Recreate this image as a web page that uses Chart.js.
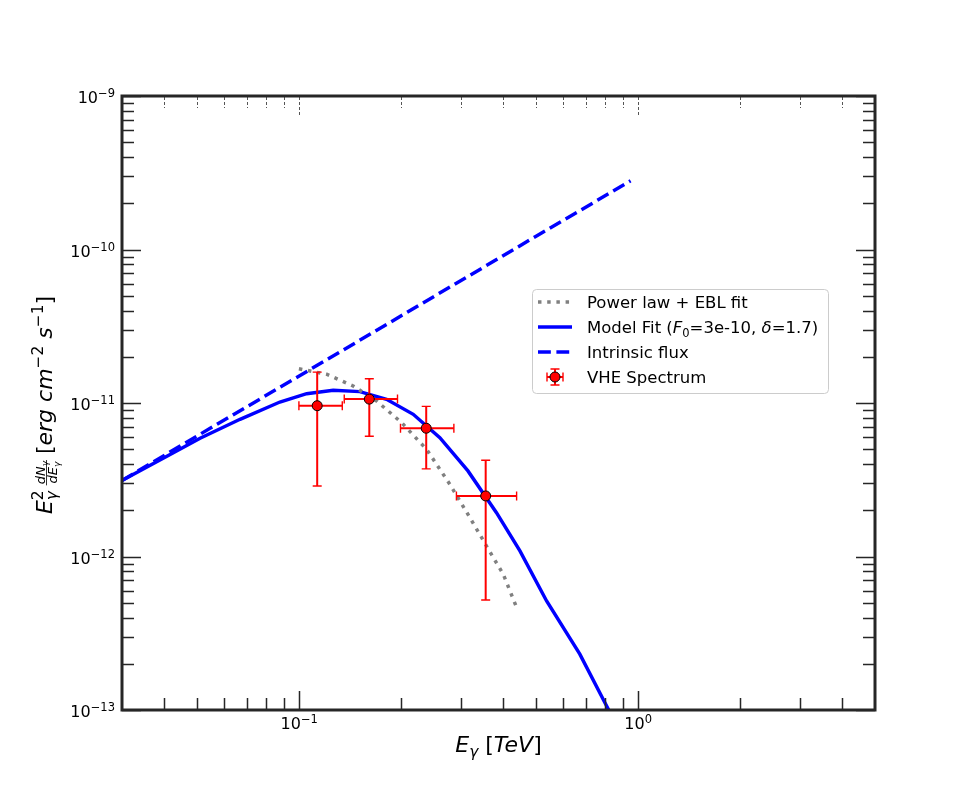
<!DOCTYPE html>
<html>
<head>
<meta charset="utf-8">
<title>VHE spectrum</title>
<script src="https://cdn.jsdelivr.net/npm/chart.js@4.4.1/dist/chart.umd.min.js"></script>
<style>
  html, body { margin: 0; padding: 0; background: #fff; }
  #wrap { width: 972px; height: 798px; }
</style>
</head>
<body>
<div id="wrap"><canvas id="sed"></canvas></div>
<script>
// VHE spectrum points: energy [TeV], E^2 dN/dE [erg cm^-2 s^-1], with error ranges
const vheE   = [0.113, 0.161, 0.237, 0.355];
const vheF   = [9.6e-12, 1.06e-11, 6.85e-12, 2.48e-12];
const vheELo = [0.0998, 0.1358, 0.199, 0.291];
const vheEHi = [0.134, 0.195, 0.286, 0.438];
const vheFLo = [2.88e-12, 6.07e-12, 3.72e-12, 5.21e-13];
const vheFHi = [1.59e-11, 1.44e-11, 9.5e-12, 4.24e-12];

// power law + EBL fit (dotted)
const eblE = [0.0998, 0.1205, 0.1443, 0.1692, 0.2005, 0.2376, 0.2784, 0.319, 0.357, 0.400, 0.4387];
const eblF = [1.67e-11, 1.54e-11, 1.29e-11, 1.03e-11, 7.45e-12, 4.99e-12, 2.95e-12, 1.79e-12, 1.17e-12, 7.66e-13, 4.62e-13];

// model fit (solid)
const fitE = [0.03, 0.0407, 0.051, 0.0669, 0.0877, 0.1052, 0.126, 0.151, 0.181, 0.217, 0.260, 0.3147, 0.382, 0.448, 0.537, 0.673, 0.816, 0.85];
const fitF = [3.13e-12, 4.5e-12, 5.89e-12, 7.83e-12, 1.015e-11, 1.15e-11, 1.21e-11, 1.186e-11, 1.057e-11, 8.44e-12, 5.94e-12, 3.61e-12, 1.93e-12, 1.087e-12, 5.13e-13, 2.31e-13, 1.015e-13, 8.5e-14];

// intrinsic flux (dashed)
const intE = [0.03, 0.05, 0.1, 0.2, 0.5, 0.95];
const intF = [3.13e-12, 6.1e-12, 1.5e-11, 3.7e-11, 1.22e-10, 2.8e-10];

// axis ranges and tick labels
const xRange = [0.03, 5];
const yRange = [1e-13, 1e-9];
const xTickVals = [0.1, 1];
const xTickExp  = ['\u22121', '0'];
const yTickVals = [1e-13, 1e-12, 1e-11, 1e-10, 1e-9];
const yTickExp  = ['\u221213', '\u221212', '\u221211', '\u221210', '\u22129'];

const legendLabels = ['Power law + EBL fit', 'Model Fit', 'Intrinsic flux', 'VHE Spectrum'];

const FAM = "'DejaVu Sans'";
const LW = 3.47;
const INK = '#262626';

const pts = (xs, ys) => xs.map((x, i) => ({ x: x, y: ys[i] }));

// --- small mathtext-ish renderer -------------------------------------------
function itemWidth(ctx, it) {
  if (it.gap) return it.gap;
  if (it.stack) return Math.max(...it.stack.map(s => { ctx.font = s.f; return ctx.measureText(s.t).width; }));
  if (it.frac) return Math.max(mathWidth(ctx, it.frac.num), mathWidth(ctx, it.frac.den)) + 2;
  ctx.font = it.f;
  return ctx.measureText(it.t).width;
}
function mathWidth(ctx, items) {
  let w = 0;
  items.forEach(it => { w += itemWidth(ctx, it); });
  return w;
}
function drawMath(ctx, items, x, y) {
  items.forEach(it => {
    const w = itemWidth(ctx, it);
    if (it.stack) {
      it.stack.forEach(s => { ctx.font = s.f; ctx.fillText(s.t, x, y + s.dy); });
    } else if (it.frac) {
      const nw = mathWidth(ctx, it.frac.num), dw = mathWidth(ctx, it.frac.den);
      drawMath(ctx, it.frac.num, x + (w - nw) / 2, y + it.frac.numY);
      drawMath(ctx, it.frac.den, x + (w - dw) / 2, y + it.frac.denY);
      ctx.fillRect(x, y + it.frac.barY - 0.4, w, 0.8);
    } else if (it.t) {
      ctx.font = it.f;
      ctx.fillText(it.t, x, y + (it.dy || 0));
    }
    x += w;
  });
}

const rm = s => s + 'px ' + FAM;
const it = s => 'italic ' + s + 'px ' + FAM;

function tickLabel(exp) {
  return [{ t: '10', f: rm(16) }, { t: exp, f: rm(11.5), dy: -5.8 }];
}

// --- error bars, drawn just before the VHE markers -------------------------
const errorBars = {
  id: 'errorBars',
  beforeDatasetDraw(chart, args) {
    if (args.index !== 0) return;
    const { ctx, scales: { x, y } } = chart;
    ctx.save();
    ctx.strokeStyle = '#ff0000';
    vheE.forEach((e, i) => {
      const px = x.getPixelForValue(e), py = y.getPixelForValue(vheF[i]);
      const x0 = x.getPixelForValue(vheELo[i]), x1 = x.getPixelForValue(vheEHi[i]);
      const y0 = y.getPixelForValue(vheFLo[i]), y1 = y.getPixelForValue(vheFHi[i]);
      ctx.lineWidth = 2;
      ctx.beginPath();
      ctx.moveTo(x0, py); ctx.lineTo(x1, py);
      ctx.moveTo(px, y0); ctx.lineTo(px, y1);
      ctx.stroke();
      ctx.lineWidth = 1.4;
      ctx.beginPath();
      ctx.moveTo(x0, py - 4.5); ctx.lineTo(x0, py + 4.5);
      ctx.moveTo(x1, py - 4.5); ctx.lineTo(x1, py + 4.5);
      ctx.moveTo(px - 4.5, y0); ctx.lineTo(px + 4.5, y0);
      ctx.moveTo(px - 4.5, y1); ctx.lineTo(px + 4.5, y1);
      ctx.stroke();
    });
    ctx.restore();
  }
};

// --- frame, ticks, labels and legend ---------------------------------------
const frame = {
  id: 'frame',
  afterDraw(chart) {
    const { ctx, chartArea: a, scales: { x, y } } = chart;
    ctx.save();

    // minor/major tick positions
    const xt = [], yt = [];
    for (let d = -2; d <= 0; d++) for (let m = 1; m <= 9; m++) {
      const v = m * Math.pow(10, d);
      if (v > xRange[0] * 1.001 && v < xRange[1] * 0.999) xt.push({ v: v, major: m === 1 });
    }
    for (let d = -13; d <= -10; d++) for (let m = 1; m <= 9; m++) {
      const v = m * Math.pow(10, d);
      yt.push({ v: v, major: m === 1 });
    }
    yt.push({ v: 1e-9, major: true });

    ctx.strokeStyle = INK;
    ctx.lineWidth = 1.5;
    ctx.beginPath();
    xt.forEach(t => {
      const px = Math.round(x.getPixelForValue(t.v)) + 0.5;
      const len = t.major ? 19 : 12;
      ctx.moveTo(px, a.bottom); ctx.lineTo(px, a.bottom - len);
    });
    yt.forEach(t => {
      const py = Math.round(y.getPixelForValue(t.v)) + 0.5;
      const len = t.major ? 19 : 12;
      ctx.moveTo(a.left, py); ctx.lineTo(a.left + len, py);
      ctx.moveTo(a.right, py); ctx.lineTo(a.right - len, py);
    });
    ctx.stroke();

    // thin broken ticks along the top
    ctx.strokeStyle = '#555';
    ctx.lineWidth = 1;
    ctx.setLineDash([3, 2]);
    ctx.beginPath();
    xt.forEach(t => {
      const px = Math.round(x.getPixelForValue(t.v)) + 0.5;
      const len = t.major ? 19 : 12;
      ctx.moveTo(px, a.top + 1); ctx.lineTo(px, a.top + len);
    });
    ctx.stroke();
    ctx.setLineDash([]);

    // spines
    ctx.strokeStyle = INK;
    ctx.lineWidth = 3;
    ctx.strokeRect(a.left, a.top, a.right - a.left, a.bottom - a.top);

    // tick labels
    ctx.fillStyle = '#000';
    ctx.textBaseline = 'alphabetic';
    ctx.textAlign = 'left';
    xTickVals.forEach((v, i) => {
      const items = tickLabel(xTickExp[i]);
      const w = mathWidth(ctx, items);
      drawMath(ctx, items, x.getPixelForValue(v) - w / 2, a.bottom + 18.5);
    });
    yTickVals.forEach((v, i) => {
      const items = tickLabel(yTickExp[i]);
      const w = mathWidth(ctx, items);
      drawMath(ctx, items, a.left - 7 - w, y.getPixelForValue(v) + 7);
    });

    // x axis title: E_gamma [TeV]
    const xTitle = [
      { t: 'E', f: it(22) }, { t: '\u03b3', f: it(15.4), dy: 4.5 },
      { gap: 7 },
      { t: '[', f: rm(22) }, { t: 'TeV', f: it(22) }, { t: ']', f: rm(22) }
    ];
    const xw = mathWidth(ctx, xTitle);
    drawMath(ctx, xTitle, (a.left + a.right) / 2 - xw / 2, 752);

    // y axis title: E^2_gamma dN/dE [erg cm^-2 s^-1]
    const yTitle = [
      { t: 'E', f: it(22) },
      { stack: [{ t: '2', f: rm(15.4), dy: -9.5 }, { t: '\u03b3', f: it(15.4), dy: 5 }] },
      { gap: 5 },
      { frac: {
          num: [{ t: 'dN', f: it(13) }, { t: '\u03b3', f: it(9), dy: 2.5 }],
          den: [{ t: 'dE', f: it(13) }, { t: '\u03b3', f: it(9), dy: 2.5 }],
          numY: -7, denY: 5, barY: -5.5 } },
      { gap: 6 },
      { t: '[', f: rm(22) }, { t: 'erg', f: it(22) }, { gap: 7 },
      { t: 'cm', f: it(22) }, { t: '\u22122', f: rm(15.4), dy: -9.5 }, { gap: 7 },
      { t: 's', f: it(22) }, { t: '\u22121', f: rm(15.4), dy: -9.5 },
      { t: ']', f: rm(22) }
    ];
    const yw = mathWidth(ctx, yTitle);
    ctx.save();
    ctx.translate(52, (a.top + a.bottom) / 2 + 2);
    ctx.rotate(-Math.PI / 2);
    drawMath(ctx, yTitle, -yw / 2, 0);
    ctx.restore();

    // legend
    const bx = 532, by = 289, bw = 296, bh = 104;
    ctx.beginPath();
    ctx.roundRect(bx + 0.5, by + 0.5, bw, bh, 4);
    ctx.fillStyle = 'rgba(255,255,255,0.8)';
    ctx.fill();
    ctx.strokeStyle = '#cccccc';
    ctx.lineWidth = 1;
    ctx.stroke();

    const rows = [302, 327, 352, 377];
    const hx0 = 538, hx1 = 572, tx = 587;
    ctx.lineWidth = LW;
    ctx.lineCap = 'butt';

    ctx.strokeStyle = '#808080';
    ctx.setLineDash([LW, 1.65 * LW]);
    ctx.beginPath(); ctx.moveTo(hx0, rows[0]); ctx.lineTo(hx1, rows[0]); ctx.stroke();

    ctx.strokeStyle = '#0000ff';
    ctx.setLineDash([]);
    ctx.beginPath(); ctx.moveTo(hx0, rows[1]); ctx.lineTo(hx1, rows[1]); ctx.stroke();

    ctx.setLineDash([3.7 * LW, 1.6 * LW]);
    ctx.beginPath(); ctx.moveTo(hx0, rows[2]); ctx.lineTo(hx1, rows[2]); ctx.stroke();
    ctx.setLineDash([]);

    const mx = (hx0 + hx1) / 2, my = rows[3];
    ctx.strokeStyle = '#ff0000';
    ctx.lineWidth = 2;
    ctx.beginPath();
    ctx.moveTo(mx - 8, my); ctx.lineTo(mx + 8, my);
    ctx.moveTo(mx, my - 8); ctx.lineTo(mx, my + 8);
    ctx.stroke();
    ctx.lineWidth = 1.4;
    ctx.beginPath();
    ctx.moveTo(mx - 8, my - 4.5); ctx.lineTo(mx - 8, my + 4.5);
    ctx.moveTo(mx + 8, my - 4.5); ctx.lineTo(mx + 8, my + 4.5);
    ctx.moveTo(mx - 4.5, my - 8); ctx.lineTo(mx + 4.5, my - 8);
    ctx.moveTo(mx - 4.5, my + 8); ctx.lineTo(mx + 4.5, my + 8);
    ctx.stroke();
    ctx.beginPath();
    ctx.arc(mx, my, 5, 0, Math.PI * 2);
    ctx.fillStyle = '#ff0000';
    ctx.fill();
    ctx.strokeStyle = '#000';
    ctx.lineWidth = 1;
    ctx.stroke();

    ctx.fillStyle = '#000';
    const lf = 16.5;
    drawMath(ctx, [{ t: legendLabels[0], f: rm(lf) }], tx, rows[0] + 6);
    drawMath(ctx, [
      { t: legendLabels[1] + ' (', f: rm(lf) }, { t: 'F', f: it(lf) },
      { t: '0', f: rm(11.5), dy: 3.5 }, { t: '=3e-10, ', f: rm(lf) },
      { t: '\u03b4', f: it(lf) }, { t: '=1.7)', f: rm(lf) }
    ], tx, rows[1] + 6);
    drawMath(ctx, [{ t: legendLabels[2], f: rm(lf) }], tx, rows[2] + 6);
    drawMath(ctx, [{ t: legendLabels[3], f: rm(lf) }], tx, rows[3] + 6);

    ctx.restore();
  }
};

new Chart(document.getElementById('sed'), {
  type: 'scatter',
  data: {
    datasets: [
      {
        label: legendLabels[3],
        data: pts(vheE, vheF),
        showLine: false,
        pointRadius: 5,
        pointBackgroundColor: '#ff0000',
        pointBorderColor: '#000000',
        pointBorderWidth: 1,
        order: 0
      },
      {
        label: legendLabels[0],
        data: pts(eblE, eblF),
        showLine: true,
        borderColor: '#808080',
        borderWidth: LW,
        borderDash: [LW, 1.65 * LW],
        pointRadius: 0,
        order: 1
      },
      {
        label: legendLabels[1],
        data: pts(fitE, fitF),
        showLine: true,
        borderColor: '#0000ff',
        borderWidth: LW,
        pointRadius: 0,
        order: 2
      },
      {
        label: legendLabels[2],
        data: pts(intE, intF),
        showLine: true,
        borderColor: '#0000ff',
        borderWidth: LW,
        borderDash: [3.7 * LW, 1.6 * LW],
        pointRadius: 0,
        order: 3
      }
    ]
  },
  options: {
    responsive: true,
    maintainAspectRatio: false,
    animation: false,
    devicePixelRatio: 1,
    layout: { padding: { left: 122, right: 97, top: 96, bottom: 88 } },
    plugins: {
      legend: { display: false },
      tooltip: { enabled: false }
    },
    scales: {
      x: { type: 'logarithmic', min: xRange[0], max: xRange[1], display: false },
      y: { type: 'logarithmic', min: yRange[0], max: yRange[1], display: false }
    }
  },
  plugins: [errorBars, frame]
});
</script>
</body>
</html>
